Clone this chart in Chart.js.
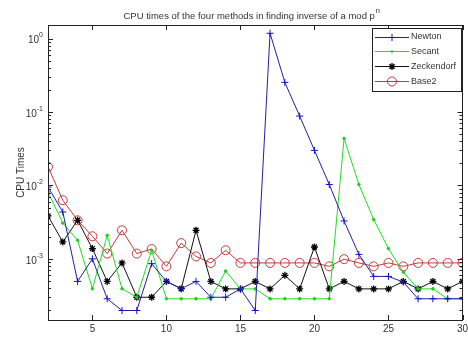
<!DOCTYPE html>
<html><head><meta charset="utf-8">
<script src="https://cdn.jsdelivr.net/npm/chart.js@4"></script>
<style>html,body{margin:0;padding:0;background:#fff}canvas{display:block}</style>
</head><body>
<canvas id="c" width="468" height="340"></canvas>
<script>
// ---- data ----
const nValues = [2,3,4,5,6,7,8,9,10,11,12,13,14,15,16,17,18,19,20,21,22,23,24,25,26,27,28,29,30];
const newtonTimes = [0.0095,0.00435,0.000493,0.001,0.000286,0.000198,0.000198,0.00086,0.000493,0.000392,0.000493,0.0003,0.0003,0.00039,0.000198,1.18,0.253,0.088,0.030,0.0103,0.00328,0.00115,0.000577,0.000577,0.000483,0.000286,0.000286,0.000286,0.000286];
const secantTimes = [0.00815,0.00308,0.00179,0.000392,0.00209,0.000392,0.0003,0.00131,0.000286,0.000286,0.000286,0.000286,0.000682,0.00039,0.00039,0.000286,0.000286,0.000286,0.000286,0.000286,0.0436,0.0103,0.00343,0.00138,0.00066,0.00039,0.00039,0.000286,0.000286];
const zeckendorfTimes = [0.00384,0.0017,0.00335,0.00138,0.000493,0.00088,0.0003,0.0003,0.000493,0.000392,0.00245,0.000493,0.00039,0.00039,0.000493,0.00039,0.000596,0.00039,0.00145,0.00039,0.000493,0.00039,0.00039,0.00039,0.000493,0.00039,0.000493,0.00039,0.000493];
const base2Times = [0.0179,0.00628,0.00335,0.00203,0.00118,0.00245,0.00118,0.00136,0.00079,0.00164,0.00108,0.00088,0.00131,0.00088,0.00088,0.00088,0.00088,0.00088,0.00088,0.00079,0.00099,0.00088,0.00079,0.00088,0.00079,0.00088,0.00088,0.00088,0.00088];
const seriesNames = ['Newton','Secant','Zeckendorf','Base2'];
const xTickValues = [5,10,15,20,25,30];
const yDecades = [-3,-2,-1,0];
const titleText = 'CPU times of the four methods in finding inverse of a mod p';
const titleSup = 'n';
const yAxisTitle = 'CPU Times';

const FONT = '"Liberation Sans", Arial, sans-serif';
const TXT = '#333';

const styles = [
  {color:'#2020a0', ptColor:'#1010d0', style:'cross', r:3.5, fill:false},
  {color:'#22dd22', ptColor:'#22cc22', style:'circle', r:1.3, fill:true},
  {color:'#111111', ptColor:'#000000', style:'star', r:3.5, fill:false},
  {color:'#c43a3a', ptColor:'#c43a3a', style:'circle', r:4.5, fill:false}
];
const allSeries = [newtonTimes, secantTimes, zeckendorfTimes, base2Times];

const datasets = allSeries.map((arr,i)=>({
  label: seriesNames[i],
  data: nValues.map((n,k)=>({x:n,y:arr[k]})),
  borderColor: styles[i].color,
  borderWidth: 1,
  tension: 0,
  pointStyle: styles[i].style,
  pointRadius: styles[i].r,
  pointHoverRadius: styles[i].r,
  pointBorderColor: styles[i].ptColor,
  pointBackgroundColor: styles[i].fill ? styles[i].ptColor : 'rgba(0,0,0,0)',
  pointBorderWidth: styles[i].style==='star' ? 1.3 : 1
}));

function drawMarker(ctx, st, x, y){
  ctx.save();
  ctx.strokeStyle = st.ptColor; ctx.fillStyle = st.ptColor; ctx.lineWidth = st.style==='star'?1.3:1;
  const r = st.r;
  ctx.beginPath();
  if (st.style==='cross'){
    ctx.moveTo(x-r,y); ctx.lineTo(x+r,y); ctx.moveTo(x,y-r); ctx.lineTo(x,y+r); ctx.stroke();
  } else if (st.style==='star'){
    ctx.moveTo(x-r,y); ctx.lineTo(x+r,y); ctx.moveTo(x,y-r); ctx.lineTo(x,y+r);
    const d = r*Math.SQRT1_2;
    ctx.moveTo(x-d,y-d); ctx.lineTo(x+d,y+d); ctx.moveTo(x-d,y+d); ctx.lineTo(x+d,y-d); ctx.stroke();
  } else {
    ctx.arc(x,y,r,0,Math.PI*2);
    if (st.fill) ctx.fill(); else ctx.stroke();
  }
  ctx.restore();
}

const decorPlugin = {
  id:'decor',
  afterDraw(chart){
    const ctx = chart.ctx, a = chart.chartArea;
    const xs = chart.scales.x, ys = chart.scales.y;
    ctx.save();
    // frame
    ctx.strokeStyle = '#222'; ctx.lineWidth = 1;
    ctx.strokeRect(Math.round(a.left)+0.5, Math.round(a.top)+0.5, Math.round(a.right-a.left)-1, Math.round(a.bottom-a.top));
    // x ticks
    ctx.beginPath();
    xTickValues.forEach(v=>{
      const px = Math.round(xs.getPixelForValue(v))+0.5;
      ctx.moveTo(px,a.bottom); ctx.lineTo(px,a.bottom-5);
      ctx.moveTo(px,a.top); ctx.lineTo(px,a.top+5);
    });
    // y ticks (major + minor)
    for (let e=-4; e<=0; e++){
      for (let k=1;k<=9;k++){
        const v = k*Math.pow(10,e);
        if (v<ys.min || v>ys.max) continue;
        const py = Math.round(ys.getPixelForValue(v))+0.5;
        const len = k===1?5:3;
        ctx.moveTo(a.left,py); ctx.lineTo(a.left+len,py);
        ctx.moveTo(a.right,py); ctx.lineTo(a.right-len,py);
      }
    }
    ctx.stroke();
    // x tick labels
    ctx.fillStyle = TXT; ctx.font = '10px '+FONT; ctx.textAlign='center'; ctx.textBaseline='top';
    xTickValues.forEach(v=>{
      let px = xs.getPixelForValue(v);
      ctx.fillText(String(v), Math.min(px, 466-2), a.bottom+4);
    });
    // y tick labels 10^e
    yDecades.forEach(e=>{
      const py = ys.getPixelForValue(Math.pow(10,e));
      const sup = String(e);
      ctx.font = '7px '+FONT;
      const sw = ctx.measureText(sup).width;
      ctx.font = '10px '+FONT;
      const bw = ctx.measureText('10').width;
      const right = a.left - 5;
      ctx.textAlign='left'; ctx.textBaseline='middle';
      ctx.fillText('10', right-sw-bw, py+2);
      ctx.font = '7px '+FONT;
      ctx.fillText(sup, right-sw, py-3);
    });
    // title
    ctx.font = '9.5px '+FONT;
    const tw = ctx.measureText(titleText).width;
    ctx.font = '7.5px '+FONT;
    const tsw = ctx.measureText(titleSup).width;
    const tx = (a.left+a.right)/2 - (tw+tsw)/2 - 4;
    ctx.textAlign='left'; ctx.textBaseline='middle';
    ctx.font = '9.5px '+FONT;
    ctx.fillText(titleText, tx, 16);
    ctx.font = '7.5px '+FONT;
    ctx.fillText(titleSup, tx+tw+1, 11);
    // y axis title
    ctx.save();
    ctx.translate(21, (a.top+a.bottom)/2);
    ctx.rotate(-Math.PI/2);
    ctx.font = '10px '+FONT; ctx.textAlign='center'; ctx.textBaseline='middle';
    ctx.fillText(yAxisTitle, 0, 0);
    ctx.restore();
    // legend
    const lx=372.5, ly=28.5, lw=89, lh=63;
    ctx.fillStyle='#fff'; ctx.fillRect(lx,ly,lw,lh);
    ctx.strokeStyle='#222'; ctx.strokeRect(lx,ly,lw,lh);
    chart.data.datasets.forEach((ds,i)=>{
      const yy = 36.5 + i*14.8;
      ctx.strokeStyle = styles[i].color; ctx.lineWidth=1;
      ctx.beginPath(); ctx.moveTo(375,Math.round(yy)+0.5); ctx.lineTo(409,Math.round(yy)+0.5); ctx.stroke();
      drawMarker(ctx, styles[i], 392, Math.round(yy)+0.5);
      ctx.fillStyle = TXT; ctx.font='9px '+FONT; ctx.textAlign='left'; ctx.textBaseline='middle';
      ctx.fillText(ds.label, 411, yy+0.5);
    });
    ctx.restore();
  }
};

new Chart(document.getElementById('c'), {
  type:'line',
  data:{datasets},
  options:{
    responsive:false,
    animation:false,
    devicePixelRatio:1,
    layout:{padding:{left:48,right:0,top:25,bottom:20}},
    plugins:{legend:{display:false},title:{display:false},tooltip:{enabled:false}},
    scales:{
      x:{type:'linear',min:2,max:30,display:false},
      y:{type:'logarithmic',min:1.47e-4,max:1.53,display:false}
    }
  },
  plugins:[decorPlugin]
});
</script>
</body></html>
